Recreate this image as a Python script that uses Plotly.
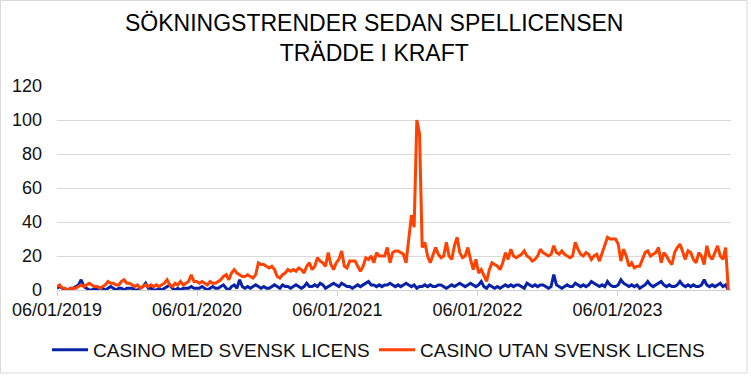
import pandas as pd
import plotly.graph_objects as go

# Weekly values (Google-Trends-like index), one list per calendar year
med_2019 = [1,2,1,0,0,1,1,2,3,6, 2,1,0,0,1,0,1,1,0,1, 2,1,0,1,1,0,1,1,1,0, 0,1,2,4,1,1,0,0,1,0, 1,2,3,1,0,1,0,1,1,1, 2,1]
med_2020 = [1,1,2,1,0,1,2,1,1,2, 3,1,0,2,3,1,6,2,1,2, 1,2,3,2,1,2,1,1,2,3, 2,1,3,2,2,1,2,3,2,1, 2,4,2,2,3,2,4,3,1,2, 3,4]
med_2021 = [3,2,4,3,2,2,1,2,3,2, 3,4,5,3,3,2,3,2,3,3, 4,3,2,3,2,3,4,3,2,3, 1,2,2,3,2,3,2,2,3,3, 2,1,2,3,2,3,4,3,2,3, 4,3]
med_2022 = [2,3,5,2,1,3,2,1,2,1, 2,3,2,3,2,3,3,2,1,4, 3,2,3,2,3,3,2,1,2,9, 3,2,1,2,3,2,2,4,3,2, 3,2,3,5,4,3,2,3,2,5, 3,2]
med_2023 = [2,3,6,4,3,2,3,2,3,1, 2,3,5,3,2,3,4,5,3,2, 3,2,2,3,5,3,2,3,2,3, 2,2,3,6,3,2,3,2,3,4, 2,3,0]

utan_2019 = [2,3,1,1,0,1,1,1,2,3, 2,3,4,3,2,2,1,2,3,5, 4,4,3,3,5,6,4,4,3,2, 3,1,2,3,2,3,2,3,2,3, 4,6,3,2,4,3,5,3,4,5, 9,5]
utan_2020 = [5,4,5,4,3,5,4,4,5,6, 8,9,6,10,12,10,9,8,8,9, 8,7,9,16,15,15,14,13,14,12, 8,7,9,10,12,11,12,11,13,12, 10,14,16,12,14,19,17,16,14,22, 15,12]
utan_2021 = [16,18,23,14,13,17,17,17,14,11, 14,19,18,20,16,22,20,20,20,25, 16,22,23,23,22,21,16,32,44,37, 100,92,25,28,20,16,20,25,21,19, 20,28,20,18,26,31,22,19,20,25, 18,12]
utan_2022 = [18,10,12,8,5,12,16,15,14,12, 16,22,18,24,20,19,20,21,23,20, 19,17,18,20,24,22,21,20,21,26, 22,21,23,21,20,19,20,28,24,21, 20,22,21,18,20,21,17,22,27,31, 30,30]
utan_2023 = [30,27,17,24,20,14,16,13,14,14, 18,22,23,20,21,22,25,16,22,20, 17,15,22,25,27,22,18,23,22,18, 16,22,20,15,26,20,18,22,26,20, 18,25,0]

med = med_2019 + med_2020 + med_2021 + med_2022 + med_2023
utan = utan_2019 + utan_2020 + utan_2021 + utan_2022 + utan_2023
dates = pd.date_range("2019-01-06", periods=len(med), freq="W-SUN")

tick_vals = ["2019-01-06", "2020-01-06", "2021-01-06", "2022-01-06", "2023-01-06"]
tick_text = ["06/01/2019", "06/01/2020", "06/01/2021", "06/01/2022", "06/01/2023"]
y_ticks = [0, 20, 40, 60, 80, 100, 120]

FONT = "Liberation Sans, Arial, sans-serif"

fig = go.Figure()
fig.add_trace(go.Scatter(x=dates, y=med, mode="lines", name="CASINO MED SVENSK LICENS",
                         line=dict(color="#0A22A8", width=3), legend="legend"))
fig.add_trace(go.Scatter(x=dates, y=utan, mode="lines", name="CASINO UTAN SVENSK LICENS",
                         line=dict(color="#FF4200", width=3), legend="legend2"))

L, R, T, B = 57, 20, 86, 87
W, H = 751, 377
pw, ph = W - L - R, H - T - B

def px_x(p):
    return (p - L) / pw

def px_y(p):
    return (H - B - p) / ph

leg_common = dict(orientation="h", xanchor="left", xref="container",
                  y=px_y(350), yanchor="middle",
                  font=dict(size=19, color="#111111"), itemwidth=36,
                  bgcolor="rgba(0,0,0,0)")

fig.update_layout(
    width=W, height=H,
    margin=dict(l=L, r=R, t=T, b=B, autoexpand=False),
    paper_bgcolor="white", plot_bgcolor="white",
    font=dict(family=FONT, color="#111111", size=18),
    showlegend=True,
    legend=dict(x=47 / W, **leg_common),
    legend2=dict(x=374 / W, **leg_common),
    xaxis=dict(type="date", range=["2019-01-06", "2023-10-29"],
               tickmode="array", tickvals=tick_vals, ticktext=tick_text,
               tickangle=0,
               showgrid=False, showline=True, linecolor="#D0D0D0", linewidth=1,
               ticks="outside", ticklen=5, tickcolor="#D0D0D0",
               tickfont=dict(size=18, color="#111111"), zeroline=False,
               ticklabelstandoff=-2),
    yaxis=dict(range=[0, 120], tickmode="array", tickvals=y_ticks,
               showgrid=True, gridcolor="#D9D9D9", gridwidth=1,
               showline=False, zeroline=False, ticks="",
               tickfont=dict(size=18, color="#111111"), ticklabelstandoff=14),
    annotations=[dict(text="SÖKNINGSTRENDER SEDAN SPELLICENSEN<br>TRÄDDE I KRAFT",
                      xref="paper", yref="paper", x=px_x(374), y=px_y(38),
                      xanchor="center", yanchor="middle", showarrow=False,
                      font=dict(size=23, color="#000000", family=FONT))],
    shapes=[dict(type="rect", xref="paper", yref="paper",
                 x0=px_x(0.5), x1=px_x(747), y0=px_y(373), y1=px_y(0.5),
                 line=dict(color="#D9D9D9", width=1), fillcolor="rgba(0,0,0,0)",
                 layer="below")],
)

fig.write_html("out.html", config={"displayModeBar": False},
               post_script="document.body.style.margin='0';")
